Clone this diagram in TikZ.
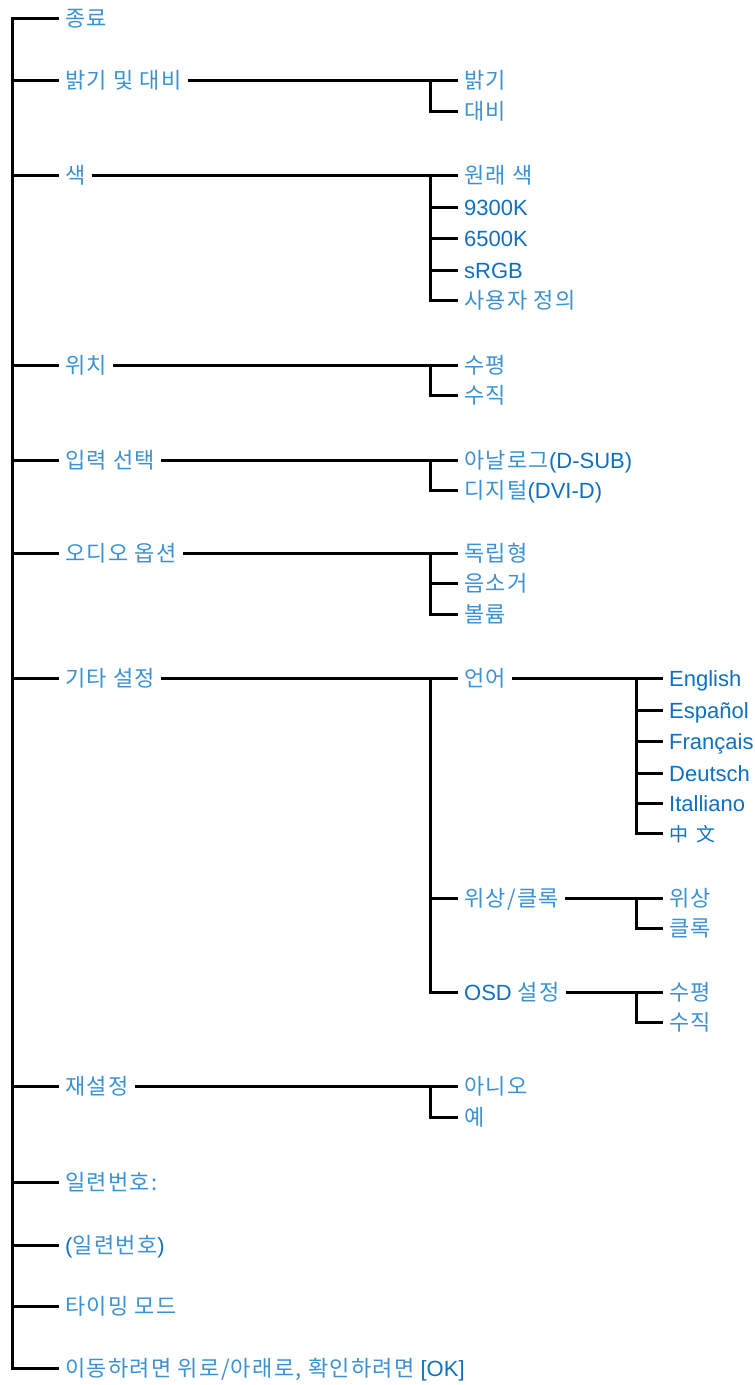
\documentclass[tikz,border=0pt]{standalone}
\usepackage{fontspec}
\setmainfont{Liberation Sans}
\newfontfamily\krfont[LetterSpace=6]{Noto Sans CJK KR}
\newfontfamily\scfont{Noto Sans CJK SC}
\definecolor{latblue}{RGB}{16,112,192}
\definecolor{krblue}{RGB}{60,145,210}
\newcommand{\kr}[1]{{\krfont\color{krblue}#1}}
\begin{document}
\begin{tikzpicture}[x=1pt,y=-1pt,
  lbl/.style={anchor=west,inner xsep=6pt,inner ysep=0pt,text height=16pt,text depth=0pt,
    font=\fontsize{22}{25}\selectfont,text=latblue},
  conn/.style={draw=black,line width=3pt,line join=miter}]
\useasboundingbox (0,0) rectangle (755,1385);
\coordinate (T) at (12,0);
\coordinate (S) at (430,0);
\coordinate (U) at (636,0);
% level 1
\node[lbl] (a1) at (59,18) {\kr{종료}};
\node[lbl] (a2) at (59,80) {\kr{밝기 및 대비}};
\node[lbl] (a3) at (59,175) {\kr{색}};
\node[lbl] (a4) at (59,365) {\kr{위치}};
\node[lbl] (a5) at (59,460) {\kr{입력 선택}};
\node[lbl] (a6) at (59,553) {\kr{오디오 옵션}};
\node[lbl] (a7) at (59,678) {\kr{기타 설정}};
\node[lbl] (a8) at (59,1086) {\kr{재설정}};
\node[lbl] (a9) at (59,1182) {\kr{일련번호:}};
\node[lbl] (a10) at (59,1245) {(\kr{일련번호})};
\node[lbl] (a11) at (59,1306) {\kr{타이밍 모드}};
\node[lbl] (a12) at (59,1368) {\kr{이동하려면 위로/아래로, 확인하려면} [OK]};
% level 2
\node[lbl] (b21) at (458,80) {\kr{밝기}};
\node[lbl] (b22) at (458,111) {\kr{대비}};
\node[lbl] (b31) at (458,175) {\kr{원래 색}};
\node[lbl] (b32) at (458,207) {9300K};
\node[lbl] (b33) at (458,238) {6500K};
\node[lbl] (b34) at (458,270) {sRGB};
\node[lbl] (b35) at (458,300) {\kr{사용자 정의}};
\node[lbl] (b41) at (458,365) {\kr{수평}};
\node[lbl] (b42) at (458,395) {\kr{수직}};
\node[lbl] (b51) at (458,460) {\kr{아날로그}(D-SUB)};
\node[lbl] (b52) at (458,490) {\kr{디지털}(DVI-D)};
\node[lbl] (b61) at (458,553) {\kr{독립형}};
\node[lbl] (b62) at (458,583) {\kr{음소거}};
\node[lbl] (b63) at (458,614) {\kr{볼륨}};
\node[lbl] (b71) at (458,678) {\kr{언어}};
\node[lbl] (b72) at (458,898) {\kr{위상/클록}};
\node[lbl] (b73) at (458,992) {OSD \kr{설정}};
\node[lbl] (b81) at (458,1086) {\kr{아니오}};
\node[lbl] (b82) at (458,1117) {\kr{예}};
% level 3
\node[lbl] (c1) at (663,678) {English};
\node[lbl] (c2) at (663,710) {Español};
\node[lbl] (c3) at (663,741) {Français};
\node[lbl] (c4) at (663,773) {Deutsch};
\node[lbl] (c5) at (663,803) {Italliano};
\node[lbl] (c6) at (663,833) {{\scfont\fontsize{19}{22}\selectfont 中\hspace{0.45em}文}};
\node[lbl] (d1) at (663,898) {\kr{위상}};
\node[lbl] (d2) at (663,928) {\kr{클록}};
\node[lbl] (e1) at (663,992) {\kr{수평}};
\node[lbl] (e2) at (663,1022) {\kr{수직}};
% trunk
\draw[conn] (a1.west) -- (a1.west -| T) -- (a12.west -| T) -- (a12.west);
\foreach \n in {a2,a3,a4,a5,a6,a7,a8,a9,a10,a11}
  \draw[conn] (\n.west -| T) -- (\n.west);
% level-2 groups
\draw[conn] (a2.east) -- (b21.west);
\draw[conn] (b21.west -| S) -- (b22.west -| S) -- (b22.west);
\draw[conn] (a3.east) -- (b31.west);
\draw[conn] (b31.west -| S) -- (b35.west -| S) -- (b35.west);
\foreach \n in {b32,b33,b34} \draw[conn] (\n.west -| S) -- (\n.west);
\draw[conn] (a4.east) -- (b41.west);
\draw[conn] (b41.west -| S) -- (b42.west -| S) -- (b42.west);
\draw[conn] (a5.east) -- (b51.west);
\draw[conn] (b51.west -| S) -- (b52.west -| S) -- (b52.west);
\draw[conn] (a6.east) -- (b61.west);
\draw[conn] (b61.west -| S) -- (b63.west -| S) -- (b63.west);
\draw[conn] (b62.west -| S) -- (b62.west);
\draw[conn] (a7.east) -- (b71.west);
\draw[conn] (b71.west -| S) -- (b73.west -| S) -- (b73.west);
\draw[conn] (b72.west -| S) -- (b72.west);
\draw[conn] (a8.east) -- (b81.west);
\draw[conn] (b81.west -| S) -- (b82.west -| S) -- (b82.west);
% level-3 groups
\draw[conn] (b71.east) -- (c1.west);
\draw[conn] (c1.west -| U) -- (c6.west -| U) -- (c6.west);
\foreach \n in {c2,c3,c4,c5} \draw[conn] (\n.west -| U) -- (\n.west);
\draw[conn] (b72.east) -- (d1.west);
\draw[conn] (d1.west -| U) -- (d2.west -| U) -- (d2.west);
\draw[conn] (b73.east) -- (e1.west);
\draw[conn] (e1.west -| U) -- (e2.west -| U) -- (e2.west);
\end{tikzpicture}
\end{document}
